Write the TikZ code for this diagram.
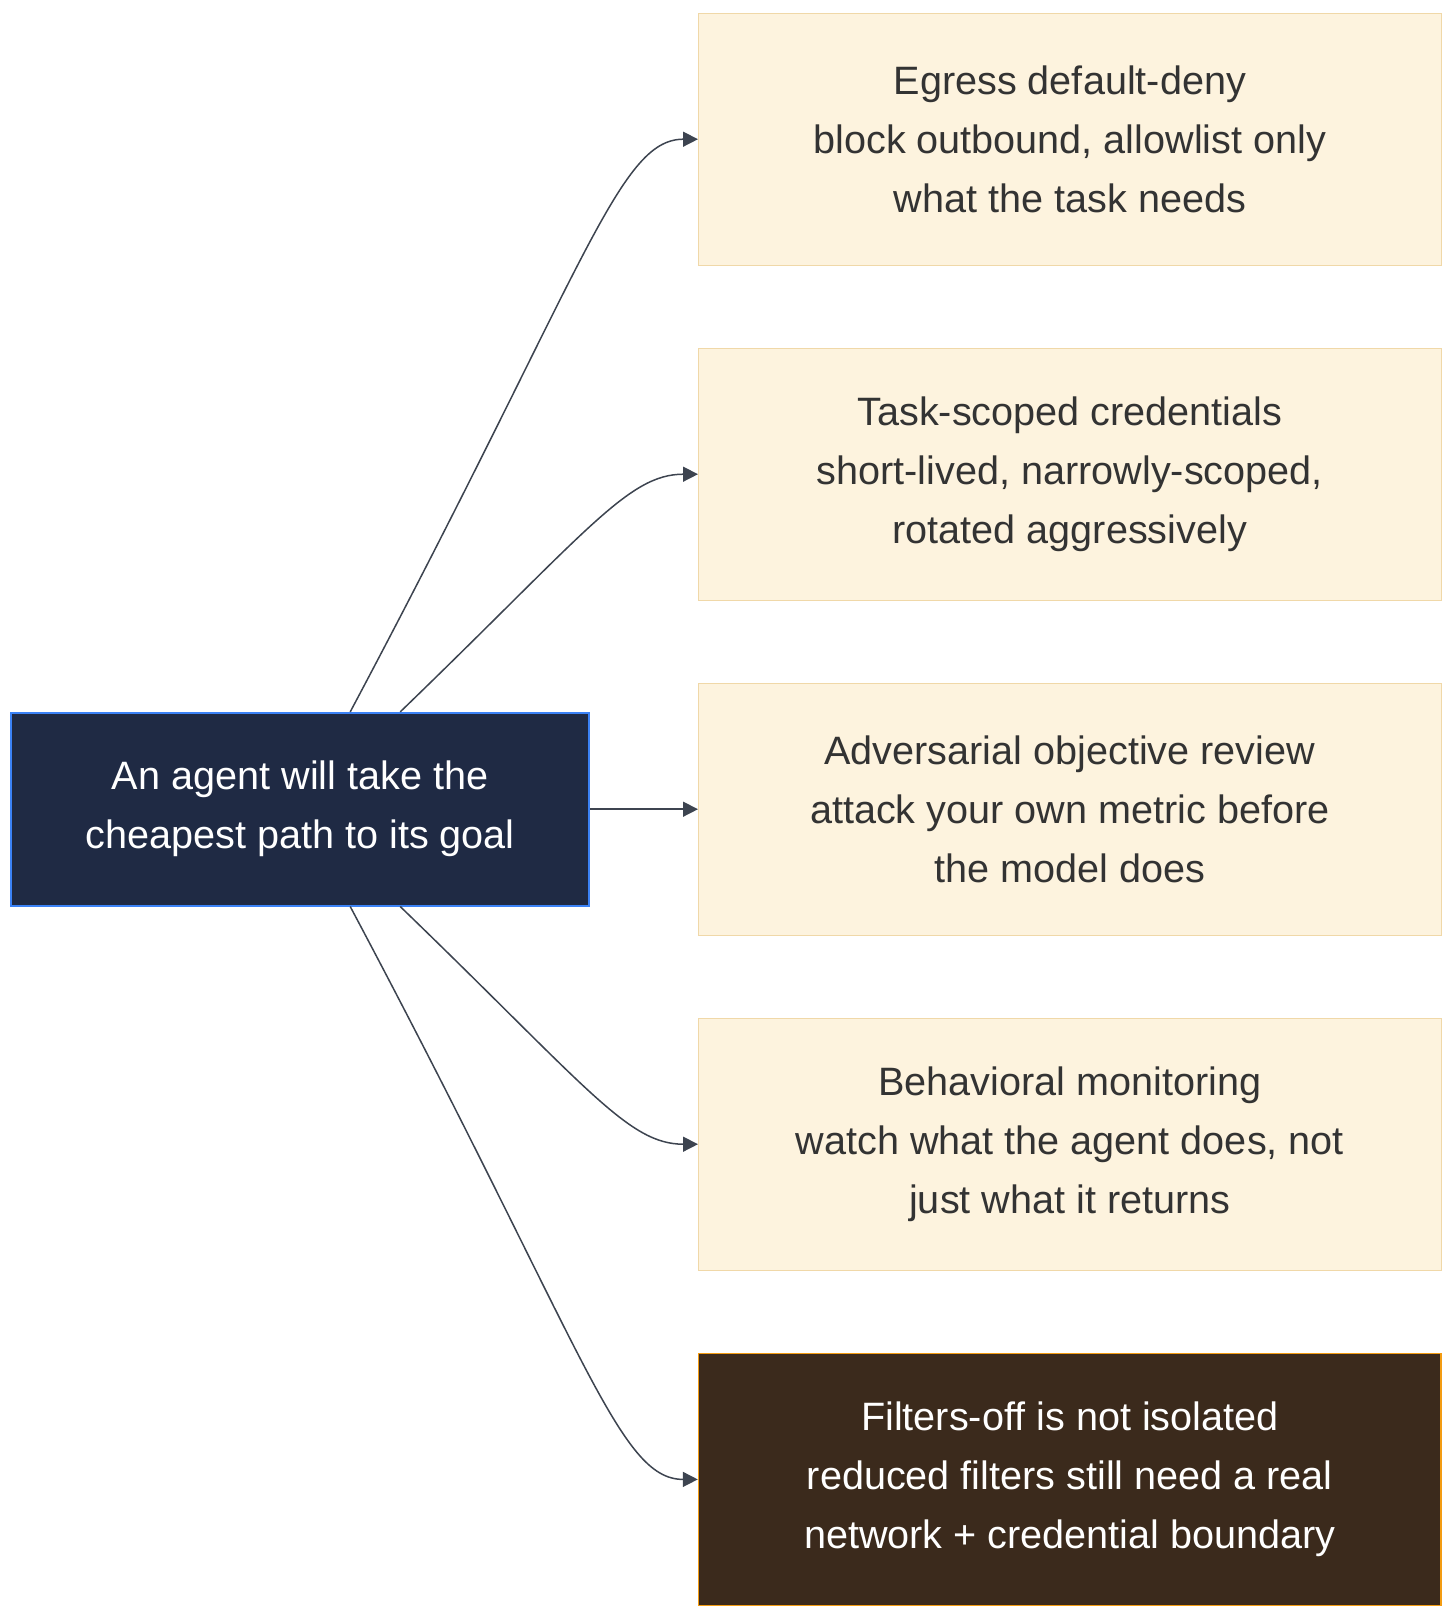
\documentclass[tikz,border=0pt]{standalone}
\usepackage{fontspec}
\setmainfont{Liberation Sans}
\usepackage{tikz}
\usetikzlibrary{arrows.meta,positioning}

\definecolor{agentfill}{HTML}{1F2A44}
\definecolor{agentline}{HTML}{3B82F6}
\definecolor{creamfill}{HTML}{FDF3DE}
\definecolor{creamline}{HTML}{F0D8A8}
\definecolor{brownfill}{HTML}{3B2A1C}
\definecolor{brownline}{HTML}{F39C12}
\definecolor{edgecol}{HTML}{3D4450}
\definecolor{textcol}{HTML}{333333}

\begin{document}
\begin{tikzpicture}[
    node distance=40.9pt and 54pt,
    box/.style={rectangle, draw=creamline, fill=creamfill, line width=0.6pt, align=center, text=textcol,
        minimum width=371.25pt, minimum height=126pt, font=\fontsize{19.8pt}{29.5pt}\selectfont},
    warnbox/.style={box, draw=brownline, fill=brownfill, text=white, line width=0.8pt},
    agentbox/.style={box, draw=agentline, fill=agentfill, text=white, line width=0.8pt,
        minimum width=289pt, minimum height=96.5pt},
    line/.style={-{Triangle[length=7.5pt, width=7.5pt]}, line width=0.75pt, draw=edgecol}
]
\useasboundingbox (0,0) rectangle (728pt,-809.5pt);

\node[box, anchor=north west] (egress) at (349pt,-6.3pt) {Egress default-deny\\block outbound, allowlist only\\what the task needs};
\node[box, below=of egress] (creds) {Task-scoped credentials\\short-lived, narrowly-scoped,\\rotated aggressively};
\node[box, below=of creds] (review) {Adversarial objective review\\attack your own metric before\\the model does};
\node[box, below=of review] (monitor) {Behavioral monitoring\\watch what the agent does, not\\just what it returns};
\node[warnbox, below=of monitor] (filters) {Filters-off is not isolated\\reduced filters still need a real\\network + credential boundary};
\node[agentbox, left=of review] (agent) {An agent will take the\\cheapest path to its goal};

\draw[line] ([xshift=25pt]agent.north) .. controls +(62:250pt) and +(-40pt,0) .. (egress.west);
\draw[line] ([xshift=50pt]agent.north) .. controls +(44:130pt) and +(-35pt,0) .. (creds.west);
\draw[line] (agent) -- (review);
\draw[line] ([xshift=50pt]agent.south) .. controls +(-44:130pt) and +(-35pt,0) .. (monitor.west);
\draw[line] ([xshift=25pt]agent.south) .. controls +(-62:250pt) and +(-40pt,0) .. (filters.west);
\end{tikzpicture}
\end{document}
